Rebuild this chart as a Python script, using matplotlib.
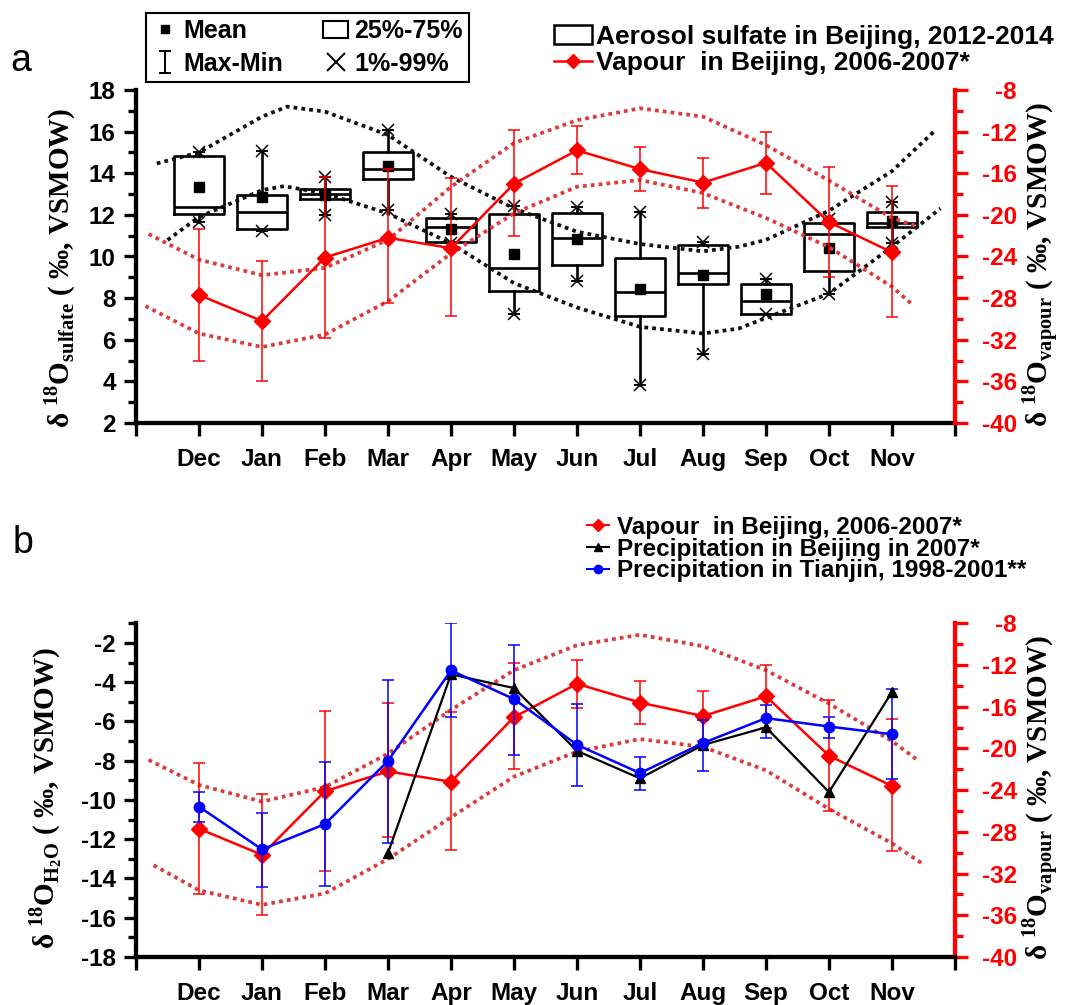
import numpy as np
import matplotlib.pyplot as plt
from matplotlib.lines import Line2D
from matplotlib.patches import Rectangle
from matplotlib.path import Path
from matplotlib.ticker import MultipleLocator

plt.rcParams['font.family'] = ['Liberation Sans', 'DejaVu Sans']
plt.rcParams['font.weight'] = 'bold'
plt.rcParams['axes.unicode_minus'] = False
plt.rcParams['mathtext.fontset'] = 'custom'
plt.rcParams['mathtext.rm'] = 'Liberation Serif'
plt.rcParams['mathtext.bf'] = 'Liberation Serif:bold'

months = ['Dec', 'Jan', 'Feb', 'Mar', 'Apr', 'May', 'Jun', 'Jul', 'Aug', 'Sep', 'Oct', 'Nov']
pos = np.arange(1, 13)

# aerosol sulfate d18O, Beijing 2012-2014 (box statistics)
sul_q3 = [14.83, 12.95, 13.22, 15.03, 11.83, 12.04, 12.07, 9.91, 10.55, 8.67, 11.59, 12.12]
sul_q1 = [12.04, 11.30, 12.74, 13.70, 10.68, 8.36, 9.59, 7.13, 8.67, 7.26, 9.31, 11.40]
sul_med = [12.40, 12.12, 12.98, 14.19, 11.43, 9.43, 10.87, 8.30, 9.22, 7.86, 11.08, 11.60]
sul_mean = [13.35, 12.87, 12.95, 14.36, 11.32, 10.11, 10.82, 8.42, 9.11, 8.18, 10.39, 11.70]
sul_max = [15.03, 15.07, 13.80, 16.08, 12.04, 12.42, 12.39, 12.15, 10.71, 8.90, 11.78, 12.63]
sul_min = [11.67, 11.24, 11.99, 12.23, 10.63, 7.22, 8.82, 3.82, 5.31, 7.26, 8.22, 10.63]

# vapour d18O, Beijing 2006-2007 (mean with error bars)
vap_mean = [-27.7, -30.2, -24.1, -22.2, -23.2, -17.0, -13.8, -15.6, -16.9, -15.0, -20.7, -23.6]
vap_hi = [-21.4, -24.4, -16.4, -15.6, -16.5, -11.8, -11.5, -13.5, -14.5, -12.0, -15.4, -17.2]
vap_lo = [-34.0, -36.0, -31.8, -28.5, -29.7, -22.0, -16.1, -17.7, -19.3, -18.0, -26.0, -29.8]

# precipitation d18O, Beijing 2007 (Mar-Nov)
pb_pos = np.arange(4, 13)
pb_val = [-12.7, -3.6, -4.3, -7.5, -8.9, -7.2, -6.3, -9.6, -4.5]

# precipitation d18O, Tianjin 1998-2001
tj_val = [-10.34, -12.52, -11.23, -8.01, -3.40, -4.86, -7.19, -8.63, -7.10, -5.83, -6.26, -6.65]
tj_hi = [-9.58, -10.65, -8.05, -3.87, -1.01, -2.09, -5.12, -7.79, -5.92, -5.15, -5.75, -4.35]
tj_lo = [-11.11, -14.43, -14.40, -12.20, -5.75, -7.70, -9.29, -9.49, -8.52, -6.85, -6.85, -8.95]

# dotted envelope curves (x in month slots)
a_blk_up_x = [0.33, 1, 2, 2.4, 3, 4, 5, 6, 7, 8, 9, 9.57, 10, 11, 12, 12.7]
a_blk_up_y = [14.47, 15.0, 16.72, 17.2, 16.96, 15.84, 13.83, 12.31, 11.19, 10.6, 10.25, 10.47, 10.8, 12.2, 14.1, 16.1]
a_blk_lo_x = [0.5, 1, 2, 2.35, 3, 4, 5, 6, 7, 8, 9, 9.57, 10, 11, 12, 12.77]
a_blk_lo_y = [10.79, 11.9, 13.19, 13.38, 13.03, 12.07, 10.63, 8.72, 7.55, 6.62, 6.3, 6.54, 7.05, 8.22, 10.47, 12.31]
a_red_up_x = [0.2, 1, 2, 3, 4, 5, 6, 7, 8, 9, 10, 11, 12, 12.4]
a_red_up_y = [-21.84, -24.3, -25.8, -25.1, -22.4, -17.3, -13.1, -10.9, -9.76, -10.56, -13.3, -16.7, -20.3, -21.1]
a_red_lo_x = [0.15, 1, 2, 3, 4, 5, 6, 7, 8, 9, 10, 11, 12, 12.3]
a_red_lo_y = [-28.76, -31.4, -32.7, -31.5, -28.3, -23.7, -19.85, -17.3, -16.65, -17.9, -20.3, -23.1, -26.9, -28.5]
b_red_up_x = [0.2, 1, 2, 3, 4, 5, 6, 7, 8, 9, 10, 11, 12, 12.38]
b_red_up_y = [-21.1, -23.5, -25.1, -23.7, -20.5, -16.3, -12.5, -10.1, -9.1, -10.2, -12.5, -15.7, -19.3, -21.0]
b_red_lo_x = [0.28, 1, 2, 3, 4, 5, 6, 7, 8, 9, 10, 11, 12, 12.47]
b_red_lo_y = [-31.2, -33.6, -35.0, -33.9, -30.6, -26.6, -22.7, -20.3, -19.1, -19.85, -22.1, -25.8, -29.1, -31.0]

W, H = 1071, 1005
fig = plt.figure(figsize=(W / 100, H / 100), dpi=100)
ax_a = fig.add_axes([136 / W, 1 - 423 / H, 819 / W, 333 / H])
ax_b = fig.add_axes([136 / W, 1 - 957 / H, 819 / W, 333.7 / H])
ax_a2 = ax_a.twinx()
ax_b2 = ax_b.twinx()

dot = (0, (1, 1.1))
RED = '#ff0000'
DRED = '#dc3c3c'

# ---- panel a ----
stats = []
for i in range(12):
    stats.append(dict(med=sul_med[i], q1=sul_q1[i], q3=sul_q3[i], mean=sul_mean[i],
                      whislo=sul_min[i], whishi=sul_max[i],
                      fliers=[sul_min[i], sul_max[i]]))
ax_a.bxp(stats, positions=pos, widths=0.8, capwidths=0.16, showmeans=True, manage_ticks=False,
         boxprops=dict(color='k', lw=1.9), medianprops=dict(color='k', lw=1.9),
         whiskerprops=dict(color='k', lw=1.9), capprops=dict(color='k', lw=1.4),
         meanprops=dict(marker='s', mfc='k', mec='k', ms=6.5),
         flierprops=dict(marker='x', mec='k', ms=8, mew=1.1))
ax_a.plot(a_blk_up_x, a_blk_up_y, color='#111111', ls=dot, lw=2.7)
ax_a.plot(a_blk_lo_x, a_blk_lo_y, color='#111111', ls=dot, lw=2.7)

ax_a2.plot(a_red_up_x, a_red_up_y, color=DRED, ls=dot, lw=2.7)
ax_a2.plot(a_red_lo_x, a_red_lo_y, color=DRED, ls=dot, lw=2.7)
vm = np.array(vap_mean)
err = [vm - np.array(vap_lo), np.array(vap_hi) - vm]
ax_a2.errorbar(pos, vap_mean, yerr=err, color=RED, lw=1.8, marker='D', ms=8.5,
               elinewidth=1.1, capsize=4.5, capthick=1.1)

# ---- panel b ----
ax_b2.plot(b_red_up_x, b_red_up_y, color=DRED, ls=dot, lw=2.7)
ax_b2.plot(b_red_lo_x, b_red_lo_y, color=DRED, ls=dot, lw=2.7)
ax_b2.errorbar(pos, vap_mean, yerr=err, color=RED, lw=1.8, marker='D', ms=8.5,
               elinewidth=1.1, capsize=4.5, capthick=1.1)
tv = np.array(tj_val)
ax_b.errorbar(pos, tj_val, yerr=[tv - np.array(tj_lo), np.array(tj_hi) - tv], color='#0000ff',
              lw=1.8, marker='o', ms=7.5, elinewidth=1.1, capsize=4, capthick=1.1)
ax_b.plot(pb_pos, pb_val, color='k', lw=1.6, marker='^', ms=7.5)
ax_b.set_zorder(ax_b2.get_zorder() + 1)
ax_b.patch.set_visible(False)


def style(ax, ax2, ylim, ystep):
    ax.set_xlim(0, 13)
    ax.set_xticks(range(14))
    ax.set_xticklabels([''] + months + [''])
    ax.set_ylim(*ylim)
    ax.yaxis.set_major_locator(MultipleLocator(ystep))
    ax.yaxis.set_minor_locator(MultipleLocator(ystep / 2))
    ax.spines['top'].set_visible(False)
    ax.spines['right'].set_visible(False)
    for s in ['left', 'bottom']:
        ax.spines[s].set_linewidth(3.1)
    ax.tick_params(which='major', direction='out', length=9, width=2.4, labelsize=17.5, pad=5.5)
    ax.tick_params(which='minor', direction='out', length=5.5, width=2.4)
    ax.tick_params(axis='x', pad=9, labelsize=17.5)
    ax2.set_ylim(-40, -8)
    ax2.yaxis.set_major_locator(MultipleLocator(4))
    ax2.yaxis.set_minor_locator(MultipleLocator(2))
    for s in ['top', 'left', 'bottom']:
        ax2.spines[s].set_visible(False)
    ax2.spines['right'].set_color(RED)
    ax2.spines['right'].set_linewidth(3.1)
    ax2.tick_params(axis='y', which='major', direction='out', length=9, width=2.4,
                    colors=RED, labelsize=17.5, pad=35.5)
    ax2.tick_params(axis='y', which='minor', direction='out', length=5.5, width=2.4, colors=RED)
    for t in ax2.get_yticklabels():
        t.set_ha('right')


style(ax_a, ax_a2, (2, 18), 2)
style(ax_b, ax_b2, (-18, -1), 2)

# ---- axis titles ----
ylab = dict(rotation=90, ha='center', va='center', fontsize=21, family='Liberation Serif', weight='bold')
fig.text(60 / W, 1 - 268 / H, 'δ $^{18}$O$_{\\mathbf{sulfate}}$ ( ‰, VSMOW)', **ylab)
fig.text(1041 / W, 1 - 265 / H, 'δ $^{18}$O$_{\\mathrm{vapour}}$ ( ‰, VSMOW)', **ylab)
fig.text(46 / W, 1 - 798 / H, 'δ $^{18}$O$_{\\mathrm{H_2O}}$ ( ‰, VSMOW)', **ylab)
fig.text(1041 / W, 1 - 798 / H, 'δ $^{18}$O$_{\\mathrm{vapour}}$ ( ‰, VSMOW)', **ylab)

fig.text(21 / W, 1 - 61 / H, 'a', ha='center', va='center', fontsize=27, weight='normal')
fig.text(23 / W, 1 - 543 / H, 'b', ha='center', va='center', fontsize=27, weight='normal')

# ---- legends ----
ibeam = Path([(-0.5, 1), (0.5, 1), (0, 1), (0, -1), (-0.5, -1), (0.5, -1)],
             [Path.MOVETO, Path.LINETO, Path.MOVETO, Path.LINETO, Path.MOVETO, Path.LINETO])
h_mean = Line2D([], [], marker='s', color='k', ls='none', ms=6)
h_mm = Line2D([], [], marker=ibeam, color='k', ls='none', ms=16, mew=1.4)
h_box = Rectangle((0, 0), 1, 1, fc='white', ec='k', lw=1.5)
h_x = Line2D([], [], marker='x', color='k', ls='none', ms=13, mew=1.4)
leg1 = fig.legend([h_mean, h_mm, h_box, h_x], ['Mean', 'Max-Min', '25%-75%', '1%-99%'],
                  ncol=2, loc='upper left', bbox_to_anchor=(146 / W, 1 - 13 / H),
                  frameon=True, fancybox=False, edgecolor='k', framealpha=1,
                  prop=dict(size=18, weight='bold'), handlelength=1.0, handletextpad=0.25,
                  columnspacing=1.6, borderpad=0.25, labelspacing=0.35, borderaxespad=0)
leg1.get_frame().set_linewidth(1.5)

h_aer = Rectangle((0, 0), 1, 1, fc='white', ec='k', lw=1.8)
h_vap = Line2D([], [], color=RED, lw=1.8, marker='D', ms=7)
fig.legend([h_aer, h_vap], ['Aerosol sulfate in Beijing, 2012-2014', 'Vapour  in Beijing, 2006-2007*'],
           loc='upper left', bbox_to_anchor=(543 / W, 1 - 14 / H), frameon=False,
           prop=dict(size=19, weight='bold'), handlelength=1.45, handletextpad=0.15,
           labelspacing=0.1, borderaxespad=0)

h_vb = Line2D([], [], color=RED, lw=1.5, marker='D', ms=6)
h_pb = Line2D([], [], color='k', lw=1.5, marker='^', ms=6)
h_tj = Line2D([], [], color='#0000ff', lw=1.5, marker='o', ms=6)
fig.legend([h_vb, h_pb, h_tj],
           ['Vapour  in Beijing, 2006-2007*', 'Precipitation in Beijing in 2007*',
            'Precipitation in Tianjin, 1998-2001**'],
           loc='upper left', bbox_to_anchor=(577 / W, 1 - 506 / H), frameon=False,
           prop=dict(size=17.5, weight='bold'),
           handlelength=0.9, handletextpad=0.35, labelspacing=-0.05, borderaxespad=0)

fig.savefig('out.png', dpi=100)
